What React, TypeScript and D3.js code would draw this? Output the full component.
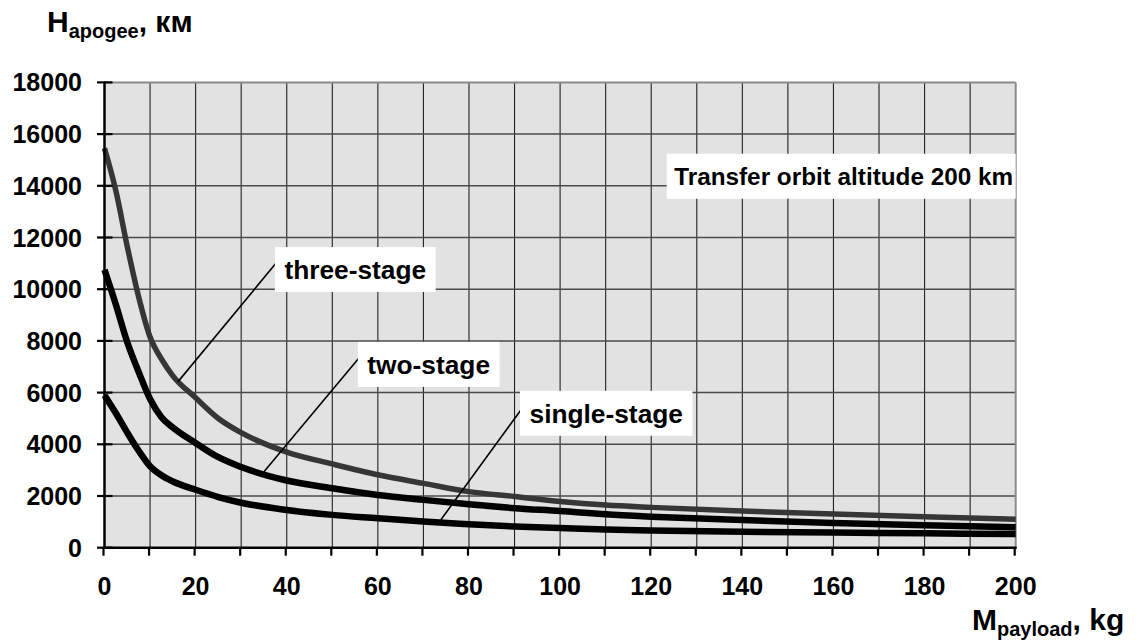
import React, { useEffect, useRef } from "react";
import * as d3 from "d3";

const xValues = [0, 2.5, 5, 7.5, 10, 12.5, 15, 20, 25, 30, 40, 50, 60, 70, 80, 90, 100, 110, 120, 140, 160, 180, 200];
const threeStage = [15450, 13800, 11650, 9700, 8150, 7300, 6650, 5800, 5000, 4450, 3700, 3240, 2820, 2490, 2170, 1980, 1790, 1650, 1560, 1420, 1300, 1200, 1100];
const twoStage = [10750, 9400, 7950, 6800, 5750, 5050, 4650, 4050, 3500, 3120, 2600, 2300, 2040, 1850, 1680, 1530, 1420, 1290, 1200, 1070, 960, 870, 790];
const singleStage = [5900, 5200, 4450, 3750, 3150, 2800, 2560, 2240, 1960, 1740, 1460, 1270, 1140, 1010, 910, 820, 760, 700, 665, 615, 585, 555, 530];

const xTicks = d3.range(0, 201, 10);
const xTickLabels = d3.range(0, 201, 20);
const yTicks = d3.range(0, 18001, 2000);

const seriesNames = ["three-stage", "two-stage", "single-stage"];
// annotation: [lineStartX, lineStartY, lineEndX, lineEndY, boxLeftX, boxCenterY]
const annotations = [
  [16.1, 6415, 37.9, 11060, 37.4, 10760],
  [35.0, 2942, 55.9, 7352, 55.6, 7090],
  [73.8, 1072, 92.0, 5474, 91.2, 5200],
];
const noteText = "Transfer orbit altitude 200 km";
const noteAnchor = [123.4, 14370];

export default function App() {
  const ref = useRef<SVGSVGElement>(null);
  useEffect(() => {
    document.body.style.margin = "0";
    const svg = d3.select(ref.current);
    svg.selectAll("*").remove();
    const font = "'Liberation Sans', Arial, sans-serif";
    const x = d3.scaleLinear().domain([0, 200]).range([104.5, 1015.7]);
    const y = d3.scaleLinear().domain([0, 18000]).range([547.7, 82.4]);
    const [x0, x1] = x.range();
    const [y0, y1] = y.range();

    svg.append("rect").attr("x", x0).attr("y", y1).attr("width", x1 - x0).attr("height", y0 - y1).attr("fill", "#e2e2e2");

    // vertical grid
    svg.append("g").selectAll("line").data(xTicks.slice(1, -1)).join("line")
      .attr("x1", d => x(d)).attr("x2", d => x(d)).attr("y1", y1).attr("y2", y0)
      .attr("stroke", "#222").attr("stroke-width", 1.1);
    // horizontal grid
    svg.append("g").selectAll("line").data(yTicks.slice(1, -1)).join("line")
      .attr("x1", x0).attr("x2", x1).attr("y1", d => y(d)).attr("y2", d => y(d))
      .attr("stroke", "#4a4a4a").attr("stroke-width", 1.5);

    // top and right borders
    svg.append("line").attr("x1", x0).attr("x2", x1).attr("y1", y1).attr("y2", y1).attr("stroke", "#8a8a8a").attr("stroke-width", 2);
    svg.append("line").attr("x1", x1).attr("x2", x1).attr("y1", y1).attr("y2", y0).attr("stroke", "#8a8a8a").attr("stroke-width", 2);

    const line = d3.line<number>().x((_, i) => x(xValues[i])).y(d => y(d)).curve(d3.curveMonotoneX);
    const series = [threeStage, twoStage, singleStage];
    const colors = ["#363636", "#000", "#000"];
    const widths = [5.5, 6.5, 6.5];
    series.forEach((s, i) => {
      svg.append("path").attr("d", line(s) as string).attr("fill", "none")
        .attr("stroke", colors[i]).attr("stroke-width", widths[i]).attr("stroke-linejoin", "round");
    });

    // axes
    svg.append("line").attr("x1", x0).attr("x2", x0).attr("y1", y1 - 1).attr("y2", y0 + 1).attr("stroke", "#000").attr("stroke-width", 2.5);
    svg.append("line").attr("x1", x0).attr("x2", x1 + 1).attr("y1", y0).attr("y2", y0).attr("stroke", "#000").attr("stroke-width", 2.5);

    svg.append("g").selectAll("line").data(yTicks).join("line")
      .attr("x1", x0 - 7.5).attr("x2", x0 + 8).attr("y1", d => y(d)).attr("y2", d => y(d))
      .attr("stroke", "#000").attr("stroke-width", 2.2);
    svg.append("g").selectAll("line").data(xTicks).join("line")
      .attr("x1", d => x(d) - 1).attr("x2", d => x(d) - 1).attr("y1", y0).attr("y2", y0 + 8)
      .attr("stroke", "#000").attr("stroke-width", 2.2);

    svg.append("g").selectAll("text").data(yTicks).join("text")
      .attr("x", 82).attr("y", d => y(d) + 9).attr("text-anchor", "end")
      .attr("font-family", font).attr("font-weight", "bold").attr("font-size", 25)
      .text(d => String(d));
    svg.append("g").selectAll("text").data(xTickLabels).join("text")
      .attr("x", d => x(d)).attr("y", 595).attr("text-anchor", "middle")
      .attr("font-family", font).attr("font-weight", "bold").attr("font-size", 25)
      .text(d => String(d));

    // leader lines and labels
    annotations.forEach((a, i) => {
      svg.append("line").attr("x1", x(a[0])).attr("y1", y(a[1])).attr("x2", x(a[2])).attr("y2", y(a[3]))
        .attr("stroke", "#000").attr("stroke-width", 1.6);
      const g = svg.append("g");
      const rect = g.append("rect").attr("fill", "#fff");
      const t = g.append("text").attr("x", x(a[4]) + 9.5).attr("y", y(a[5]) + 9.5)
        .attr("font-family", font).attr("font-weight", "bold").attr("font-size", 26.3)
        .text(seriesNames[i]);
      const w = (t.node() as SVGTextElement).getComputedTextLength();
      rect.attr("x", x(a[4])).attr("y", y(a[5]) - 22.5).attr("width", w + 19).attr("height", 45);
    });

    const ng = svg.append("g");
    ng.append("rect").attr("x", x(noteAnchor[0])).attr("y", y(noteAnchor[1]) - 22.5)
      .attr("width", x1 - x(noteAnchor[0])).attr("height", 45).attr("fill", "#fff");
    ng.append("text").attr("x", x(noteAnchor[0]) + 7.5).attr("y", y(noteAnchor[1]) + 8.5)
      .attr("font-family", font).attr("font-weight", "bold").attr("font-size", 24.3)
      .text(noteText);

    // axis titles
    const yt = svg.append("text").attr("x", 47).attr("y", 32)
      .attr("font-family", font).attr("font-weight", "bold").attr("font-size", 30);
    yt.append("tspan").text("H");
    yt.append("tspan").attr("font-size", 20).attr("dy", 6).text("apogee");
    yt.append("tspan").attr("dy", -6).text(", км");

    const xt = svg.append("text").attr("x", 972).attr("y", 630)
      .attr("font-family", font).attr("font-weight", "bold").attr("font-size", 30);
    xt.append("tspan").text("M");
    xt.append("tspan").attr("font-size", 20).attr("dy", 6).text("payload");
    xt.append("tspan").attr("dy", -6).text(", kg");
  }, []);
  return <svg ref={ref} width={1141} height={644} style={{ display: "block", background: "#fff" }} />;
}
